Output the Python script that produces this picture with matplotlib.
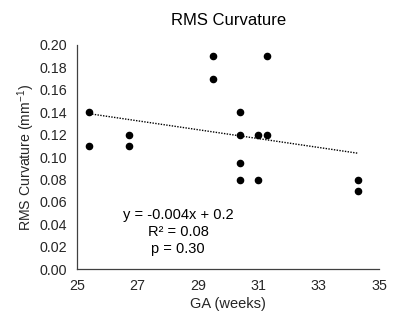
import matplotlib.pyplot as plt
import numpy as np

# GA (weeks) and RMS curvature (mm^-1)
ga = [25.4, 25.4, 26.7, 26.7, 29.5, 29.5, 30.4, 30.4, 30.4, 30.4,
      31.0, 31.0, 31.3, 31.3, 34.3, 34.3]
rms = [0.14, 0.11, 0.12, 0.11, 0.19, 0.17, 0.14, 0.12, 0.095, 0.08,
       0.12, 0.08, 0.19, 0.12, 0.08, 0.07]

x_ticks = [25, 27, 29, 31, 33, 35]
y_ticks = [0.00, 0.02, 0.04, 0.06, 0.08, 0.10, 0.12, 0.14, 0.16, 0.18, 0.20]

plt.rcParams['font.family'] = ['Liberation Sans', 'DejaVu Sans']
plt.rcParams['mathtext.fontset'] = 'custom'
plt.rcParams['mathtext.rm'] = 'Liberation Sans'
plt.rcParams['mathtext.default'] = 'rm'

fig = plt.figure(figsize=(4, 3.3), dpi=100)
ax = fig.add_axes([0.193, 0.184, 0.755, 0.68])

ax.scatter(ga, rms, s=20, color='black', zorder=3)

# linear trendline
slope, intercept = np.polyfit(ga, rms, 1)
xs = np.array([min(ga), max(ga)])
ax.plot(xs, slope * xs + intercept, color='black', linestyle=(0, (1, 1)), linewidth=1)

ax.text(0.334, 0.166, 'y = -0.004x + 0.2\nR² = 0.08\np = 0.30', transform=ax.transAxes,
        ha='center', va='center', fontsize=10.5, linespacing=1.25)

ax.set_xlim(25, 35)
ax.set_ylim(0, 0.2)
ax.set_xticks(x_ticks)
ax.set_yticks(y_ticks)
ax.set_yticklabels(['%.2f' % v for v in y_ticks])
ax.tick_params(length=0, labelsize=10.3, pad=7, colors='#262626')
for side in ['top', 'right']:
    ax.spines[side].set_visible(False)
for side in ['left', 'bottom']:
    ax.spines[side].set_color('#404040')
    ax.spines[side].set_linewidth(0.9)

ax.set_title('RMS Curvature', fontsize=12, pad=14)
ax.set_xlabel('GA (weeks)', fontsize=10.5, color='#262626', labelpad=3)
ax.set_ylabel('RMS Curvature (mm$^{-1}$)', fontsize=10.2, color='#262626', labelpad=2)

plt.savefig('out.png', dpi=100)
